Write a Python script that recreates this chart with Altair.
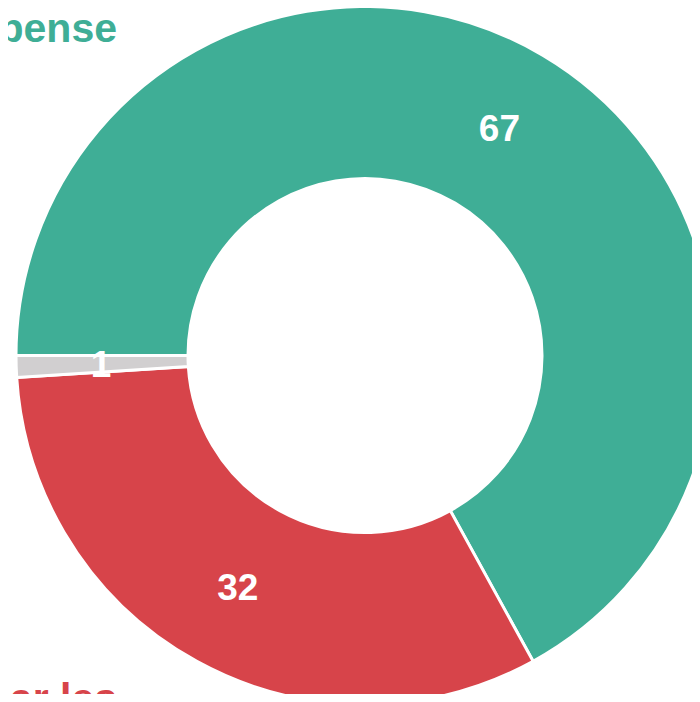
import math
import altair as alt
import pandas as pd

categories = ["Dépense", "Épargne car les", "Sans réponse"]
values = [67, 32, 1]
order_idx = [0, 1, 2]
colors = ["#3fae96", "#d7444a", "#d1cfd0"]
side_labels = ["Dépense", "Économisent car les"]
side_colors = ["#3fae96", "#d7444a"]

df = pd.DataFrame({"cat": categories, "val": values, "ord": order_idx})

CX, CY = 357, 347.5
R_OUT, R_IN, R_LAB = 349, 177, 264

theta = alt.Theta("val:Q", stack=True,
                  scale=alt.Scale(range=[-math.pi / 2, 3 * math.pi / 2]))
color = alt.Color("cat:N", scale=alt.Scale(domain=categories, range=colors), legend=None)

base = alt.Chart(df).encode(
    theta=theta,
    order=alt.Order("ord:Q"),
    x=alt.value(CX),
    y=alt.value(CY),
)

arcs = base.mark_arc(outerRadius=R_OUT, innerRadius=R_IN, stroke="white",
                     strokeWidth=3).encode(color=color)

nums = base.mark_text(radius=R_LAB, dy=2, font="Liberation Sans", fontSize=37,
                      fontWeight="bold", color="white", align="center",
                      baseline="middle").encode(text="val:Q")

lab_df = pd.DataFrame({"t": side_labels, "c": side_colors, "yy": [34, 704]})
side = alt.Chart(lab_df).mark_text(font="Liberation Sans", fontSize=41,
                                   fontWeight="bold", align="right",
                                   baseline="alphabetic").encode(
    text="t:N",
    x=alt.value(109),
    y=alt.Y("yy:Q", scale=None),
    color=alt.Color("c:N", scale=None),
)

chart = alt.layer(arcs, nums, side).properties(
    width=684, height=686,
    autosize=alt.AutoSizeParams(type="none"),
    padding=0,
).configure_view(stroke=None)

chart.save("out.html", embed_options={"renderer": "svg", "actions": False})
